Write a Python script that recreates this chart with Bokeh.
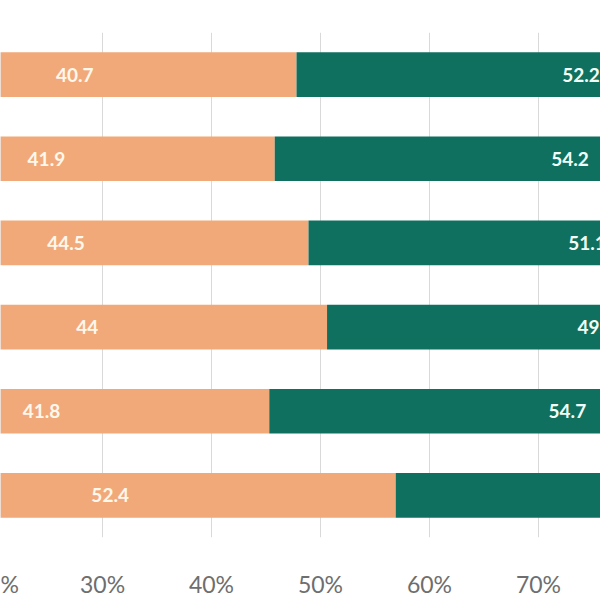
from bokeh.plotting import figure
from bokeh.models import ColumnDataSource, Range1d, FixedTicker, CustomJSTickFormatter
from bokeh.core.properties import value
from bokeh.embed import file_html
from bokeh.resources import INLINE

# Data (percent shares per row, top to bottom)
rows = [1, 2, 3, 4, 5, 6]
other = [7.1, 3.9, 4.4, 6.6, 3.5, 4.5]
orange_vals = [40.7, 41.9, 44.5, 44.0, 41.8, 52.4]
teal_vals = [52.2, 54.2, 51.1, 49.4, 54.7, 43.1]
x_ticks = [20, 30, 40, 50, 60, 70, 80]

ORANGE = "#F2A979"
TEAL = "#10705F"
OTHER = "#BFBFBF"

def fmt(v):
    return ("%g" % v)

src = ColumnDataSource(dict(
    y=rows, other=other, orange=orange_vals, teal=teal_vals,
))

p = figure(width=600, height=600, output_backend="svg", toolbar_location=None,
           x_range=Range1d(20.64, 75.69), y_range=Range1d(6.5, 0.5),
           min_border_left=0, min_border_right=0, min_border_top=32,
           min_border_bottom=57)
p.outline_line_color = None
p.background_fill_color = "white"
p.border_fill_color = "white"

p.hbar_stack(["other", "orange", "teal"], y="y", height=0.53, source=src,
             color=[OTHER, ORANGE, TEAL], line_color=None)

# labels
o_center = [s + v / 2 for s, v in zip(other, orange_vals)]
t_center = [s + o + t / 2 for s, o, t in zip(other, orange_vals, teal_vals)]
lab = ColumnDataSource(dict(
    xo=o_center, xt=t_center, y=rows,
    to=[fmt(v) for v in orange_vals], tt=[fmt(v) for v in teal_vals],
))
p.text(x="xo", y="y", text="to", source=lab, text_align="center",
       text_baseline="middle", text_color="#FFF8EC", text_font=value("Lato"),
       text_font_style="bold", text_font_size="19px")
p.text(x="xt", y="y", text="tt", source=lab, text_align="center",
       text_baseline="middle", text_color="#F2FFF8", text_font=value("Lato"),
       text_font_style="bold", text_font_size="19px")

p.yaxis.visible = False
p.ygrid.grid_line_color = None
p.xgrid.grid_line_color = "#D9D9D9"
p.xgrid.grid_line_width = 1
p.xgrid.ticker = FixedTicker(ticks=x_ticks)

# the 20% label sits mostly beyond the left edge: only its "%" shows,
# so the axis carries an extra tick just inside the edge for that tail
tail_pos = 21.3
ax = p.xaxis[0]
ax.ticker = FixedTicker(ticks=[tail_pos] + x_ticks[1:])
ax.formatter = CustomJSTickFormatter(args=dict(tail=tail_pos),
                                     code="return tick == tail ? '%' : tick + '%';")
ax.axis_line_color = None
ax.major_tick_line_color = None
ax.minor_tick_line_color = None
ax.major_label_standoff = 26
ax.major_label_text_font = "Lato"
ax.major_label_text_font_size = "23px"
ax.major_label_text_color = "#6E6E6E"

open("out.html", "w").write(file_html(p, INLINE))
